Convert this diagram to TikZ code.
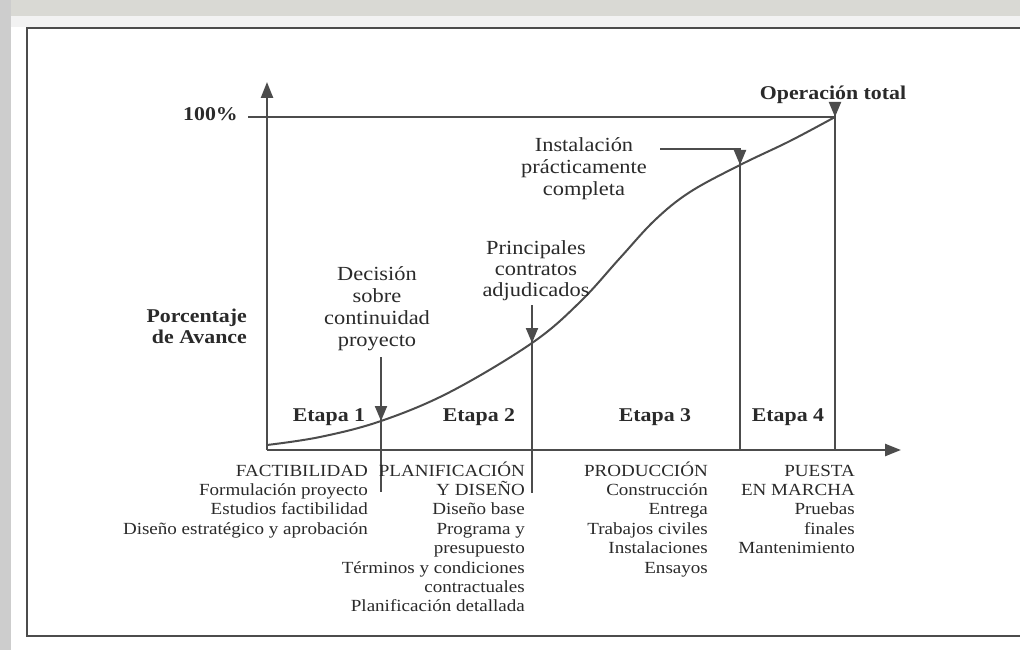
\documentclass[tikz,border=0pt]{standalone}
\usepackage{fontspec}
\setmainfont{Liberation Serif}[FakeStretch=1.12]
\usetikzlibrary{arrows.meta}

% stacked lines with a fixed baseline distance; the box baseline is the first line
\newcommand\rlines[2]{\vtop{\baselineskip=#1\lineskiplimit=-\maxdimen\halign{\hfil##\cr#2\crcr}}}
\newcommand\clines[2]{\vtop{\baselineskip=#1\lineskiplimit=-\maxdimen\halign{\hfil##\hfil\cr#2\crcr}}}

\definecolor{ink}{HTML}{2A2A2A}
\definecolor{rule}{HTML}{4C4C4C}
\definecolor{band}{HTML}{D9D9D4}
\definecolor{strip}{HTML}{CDCDCD}

\tikzset{
  axis/.style={draw=rule, line width=2.4pt, -{Triangle[length=16pt,width=12pt]}},
  guide/.style={draw=rule, line width=2pt},
  marker/.style={draw=rule, line width=2pt, -{Triangle[length=15pt,width=12pt]}},
  curve/.style={draw=rule, line width=2pt},
  lowtxt/.style={font=\fontsize{17}{19.4}\selectfont, text=ink, inner sep=0pt, anchor=base east},
  uptxt/.style={font=\fontsize{20}{22}\selectfont, text=ink, inner sep=0pt, anchor=base},
  boldtxt/.style={font=\fontsize{19.5}{21}\selectfont\bfseries, text=ink, inner sep=0pt, anchor=base},
}

\begin{document}
\begin{tikzpicture}[x=1pt, y=-1pt]
\useasboundingbox (0,0) rectangle (1020,650);
\clip (0,0) rectangle (1020,650);

% page background around the framed figure
\fill[white] (0,0) rectangle (1020,650);
\fill[band] (0,0) rectangle (1020,16);
\fill[gray!10] (0,16) rectangle (1020,27);
\fill[strip] (0,0) rectangle (11,650);

% frame
\draw[draw=rule, line width=2.6pt] (27,28) rectangle (1040,636);

% axes
\coordinate (origin) at (267,450);
\coordinate (ytip) at (267,82);
\coordinate (xtip) at (901,450);
\draw[axis] (origin) -- (ytip);
\draw[axis] (origin) -- (xtip);

% 100% level
\node[boldtxt, anchor=base east] (cien) at (238,121) {100\%};
\coordinate (fullL) at (248,117);
\coordinate (fullR) at (835,117);
\draw[guide] (fullL) -- (fullR);

% progress curve
\draw[curve] plot[smooth, tension=0.6] coordinates {
  (267,445) (320,437) (381,421) (450,392) (532,343) (580,302)
  (620,258) (655,220) (690,192) (740,165) (790,141) (835,117)};

% milestone points on the curve
\coordinate (m1) at (381,421);
\coordinate (m2) at (532,343);
\coordinate (m3) at (740,165);
\coordinate (m4) at (835,117);

% milestone 1
\coordinate (m1top) at (381,357);
\coordinate (m1bot) at (381,492);
\draw[guide] (m1top) -- (m1bot);
\draw[marker] (m1top) -- (m1);

% milestone 2
\coordinate (m2top) at (532,305);
\coordinate (m2bot) at (532,493);
\draw[guide] (m2top) -- (m2bot);
\draw[marker] (m2top) -- (m2);

% milestone 3
\coordinate (m3lead) at (660,149);
\coordinate (m3top) at (740,149);
\coordinate (m3bot) at (740,450);
\draw[guide] (m3lead) -- (m3top) -- (m3bot);
\draw[marker] (m3top) -- (m3);

% milestone 4
\coordinate (m4top) at (835,104);
\coordinate (m4bot) at (835,450);
\draw[guide] (m4top) -- (m4bot);
\draw[marker] (m4top) -- (m4);

% labels above the curve
\node[boldtxt] (optot) at (833,100) {Operación total};
\node[uptxt] (inst) at (584,151) {\clines{22pt}{Instalación\cr prácticamente\cr completa}};
\node[uptxt] (princ) at (536,254) {\clines{21pt}{Principales\cr contratos\cr adjudicados}};
\node[uptxt] (decis) at (377,280) {\clines{22pt}{Decisión\cr sobre\cr continuidad\cr proyecto}};
\node[boldtxt, anchor=base east] (ylab) at (247,322) {\rlines{21pt}{Porcentaje\cr de Avance}};

% stage names
\node[boldtxt] (e1) at (329,421) {Etapa 1};
\node[boldtxt] (e2) at (479,421) {Etapa 2};
\node[boldtxt] (e3) at (655,421) {Etapa 3};
\node[boldtxt] (e4) at (788,421) {Etapa 4};

% stage contents below the axis
\node[lowtxt] (s1) at (368,476) {\rlines{19.4pt}{FACTIBILIDAD\cr Formulación proyecto\cr Estudios factibilidad\cr Diseño estratégico y aprobación}};
\node[lowtxt] (s2) at (525,476) {\rlines{19.4pt}{PLANIFICACIÓN\cr Y DISEÑO\cr Diseño base\cr Programa y\cr presupuesto\cr Términos y condiciones\cr contractuales\cr Planificación detallada}};
\node[lowtxt] (s3) at (708,476) {\rlines{19.4pt}{PRODUCCIÓN\cr Construcción\cr Entrega\cr Trabajos civiles\cr Instalaciones\cr Ensayos}};
\node[lowtxt] (s4) at (855,476) {\rlines{19.4pt}{PUESTA\cr EN MARCHA\cr Pruebas\cr finales\cr Mantenimiento}};
\end{tikzpicture}
\end{document}
